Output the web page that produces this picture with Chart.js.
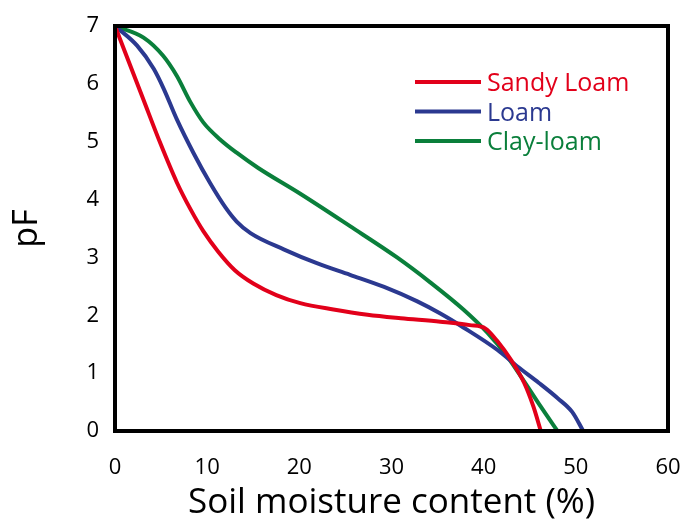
<!DOCTYPE html>
<html>
<head>
<meta charset="utf-8">
<script src="https://cdn.jsdelivr.net/npm/chart.js@4/dist/chart.umd.min.js"></script>
<style>
html,body{margin:0;padding:0;background:#fff;}
#c{display:block;}
</style>
</head>
<body>
<canvas id="c" width="685" height="524"></canvas>
<script>
// Data
const seriesNames = ["Sandy Loam", "Loam", "Clay-loam"];
const seriesColors = ["#e2001a", "#2b3990", "#0a7f3b"];

const sandyX = [0, 3.1, 4.9, 6.7, 8.2, 9.6, 11.2, 13.0, 15.0, 17.5, 20.1, 23.7, 27.4, 31.0, 35.3, 38.5, 40.2, 41.5, 43.0, 44.4, 45.4, 46.2];
const sandyY = [7, 5.72, 4.98, 4.3, 3.83, 3.45, 3.1, 2.78, 2.55, 2.35, 2.21, 2.10, 2.01, 1.95, 1.89, 1.83, 1.77, 1.55, 1.22, 0.83, 0.42, 0.0];

const loamX = [0, 2.4, 4.2, 5.3, 6.7, 8.5, 10.3, 12.0, 13.2, 14.7, 18.3, 21.9, 25.5, 29.2, 32.8, 35.3, 37.8, 41.5, 43.7, 46.0, 48.0, 49.6, 50.8];
const loamY = [7, 6.66, 6.26, 5.91, 5.39, 4.81, 4.29, 3.86, 3.62, 3.42, 3.14, 2.90, 2.70, 2.49, 2.24, 2.03, 1.79, 1.40, 1.11, 0.83, 0.57, 0.33, 0.0];

const clayX = [0, 3.1, 5.2, 6.7, 8.2, 9.6, 11.4, 13.2, 15.5, 20.1, 25.5, 30.6, 34.2, 37.8, 40.4, 42.6, 44.3, 46.2, 48.0];
const clayY = [7, 6.8, 6.49, 6.14, 5.68, 5.33, 5.04, 4.81, 4.55, 4.1, 3.54, 3.0, 2.57, 2.10, 1.70, 1.28, 0.88, 0.42, 0.0];

const xTicks = [0, 10, 20, 30, 40, 50, 60];
const yTicks = [0, 1, 2, 3, 4, 5, 6, 7];

const xTitle = "Soil moisture content (%)";
const yTitle = "pF";

function pts(xs, ys) { return xs.map((x, i) => ({ x: x, y: ys[i] })); }

const FONT = "'Open Sans', 'Noto Sans', sans-serif";

const framePlugin = {
  id: 'frame',
  afterDatasetsDraw(chart) {
    const a = chart.chartArea, ctx = chart.ctx;
    ctx.save();
    ctx.strokeStyle = '#000';
    ctx.lineWidth = 4;
    ctx.strokeRect(a.left, a.top, a.right - a.left, a.bottom - a.top);
    ctx.restore();
  }
};

const legendPlugin = {
  id: 'customLegend',
  afterDraw(chart) {
    const ctx = chart.ctx;
    ctx.save();
    ctx.font = "25px " + FONT;
    ctx.textBaseline = 'middle';
    chart.data.datasets.forEach((ds, i) => {
      const y = 82 + i * 29.5;
      ctx.strokeStyle = ds.borderColor;
      ctx.lineWidth = 4;
      ctx.beginPath();
      ctx.moveTo(415, y);
      ctx.lineTo(481, y);
      ctx.stroke();
      ctx.fillStyle = ds.borderColor;
      ctx.fillText(ds.label, 487, y + 2);
    });
    ctx.restore();
  }
};

function zeroPad(s) { s.paddingLeft = 0; s.paddingRight = 0; s.paddingTop = 0; s.paddingBottom = 0; }

const datasets = [
  pts(sandyX, sandyY), pts(loamX, loamY), pts(clayX, clayY)
].map((d, i) => ({
  label: seriesNames[i],
  data: d,
  borderColor: seriesColors[i],
  backgroundColor: seriesColors[i],
  borderWidth: 4,
  pointRadius: 0,
  fill: false,
  cubicInterpolationMode: 'monotone'
}));

new Chart(document.getElementById('c'), {
  type: 'scatter',
  data: { datasets: datasets },
  options: {
    responsive: false,
    animation: false,
    showLine: true,
    layout: { padding: { left: 0, right: 17, top: 26, bottom: 0 } },
    plugins: { legend: { display: false }, tooltip: { enabled: false } },
    scales: {
      x: {
        type: 'linear', min: 0, max: 60,
        afterBuildTicks(s) { s.ticks = xTicks.map(v => ({ value: v })); },
        afterFit(s) { s.height = 93; zeroPad(s); },
        grid: { display: false, drawTicks: false },
        border: { display: false },
        ticks: { color: '#000', font: { family: FONT, size: 22 }, padding: 24 },
        title: { display: true, text: xTitle, color: '#000', font: { family: FONT, size: 35 }, padding: { top: 0, bottom: 0 } }
      },
      y: {
        type: 'linear', min: 0, max: 7,
        afterBuildTicks(s) { s.ticks = yTicks.map(v => ({ value: v })); },
        afterFit(s) { s.width = 115; zeroPad(s); },
        grid: { display: false, drawTicks: false },
        border: { display: false },
        ticks: { color: '#000', font: { family: FONT, size: 22 }, padding: 16 },
        title: { display: true, text: yTitle, color: '#000', font: { family: FONT, size: 34 }, padding: { top: 7, bottom: 0 } }
      }
    }
  },
  plugins: [framePlugin, legendPlugin]
});
</script>
</body>
</html>
